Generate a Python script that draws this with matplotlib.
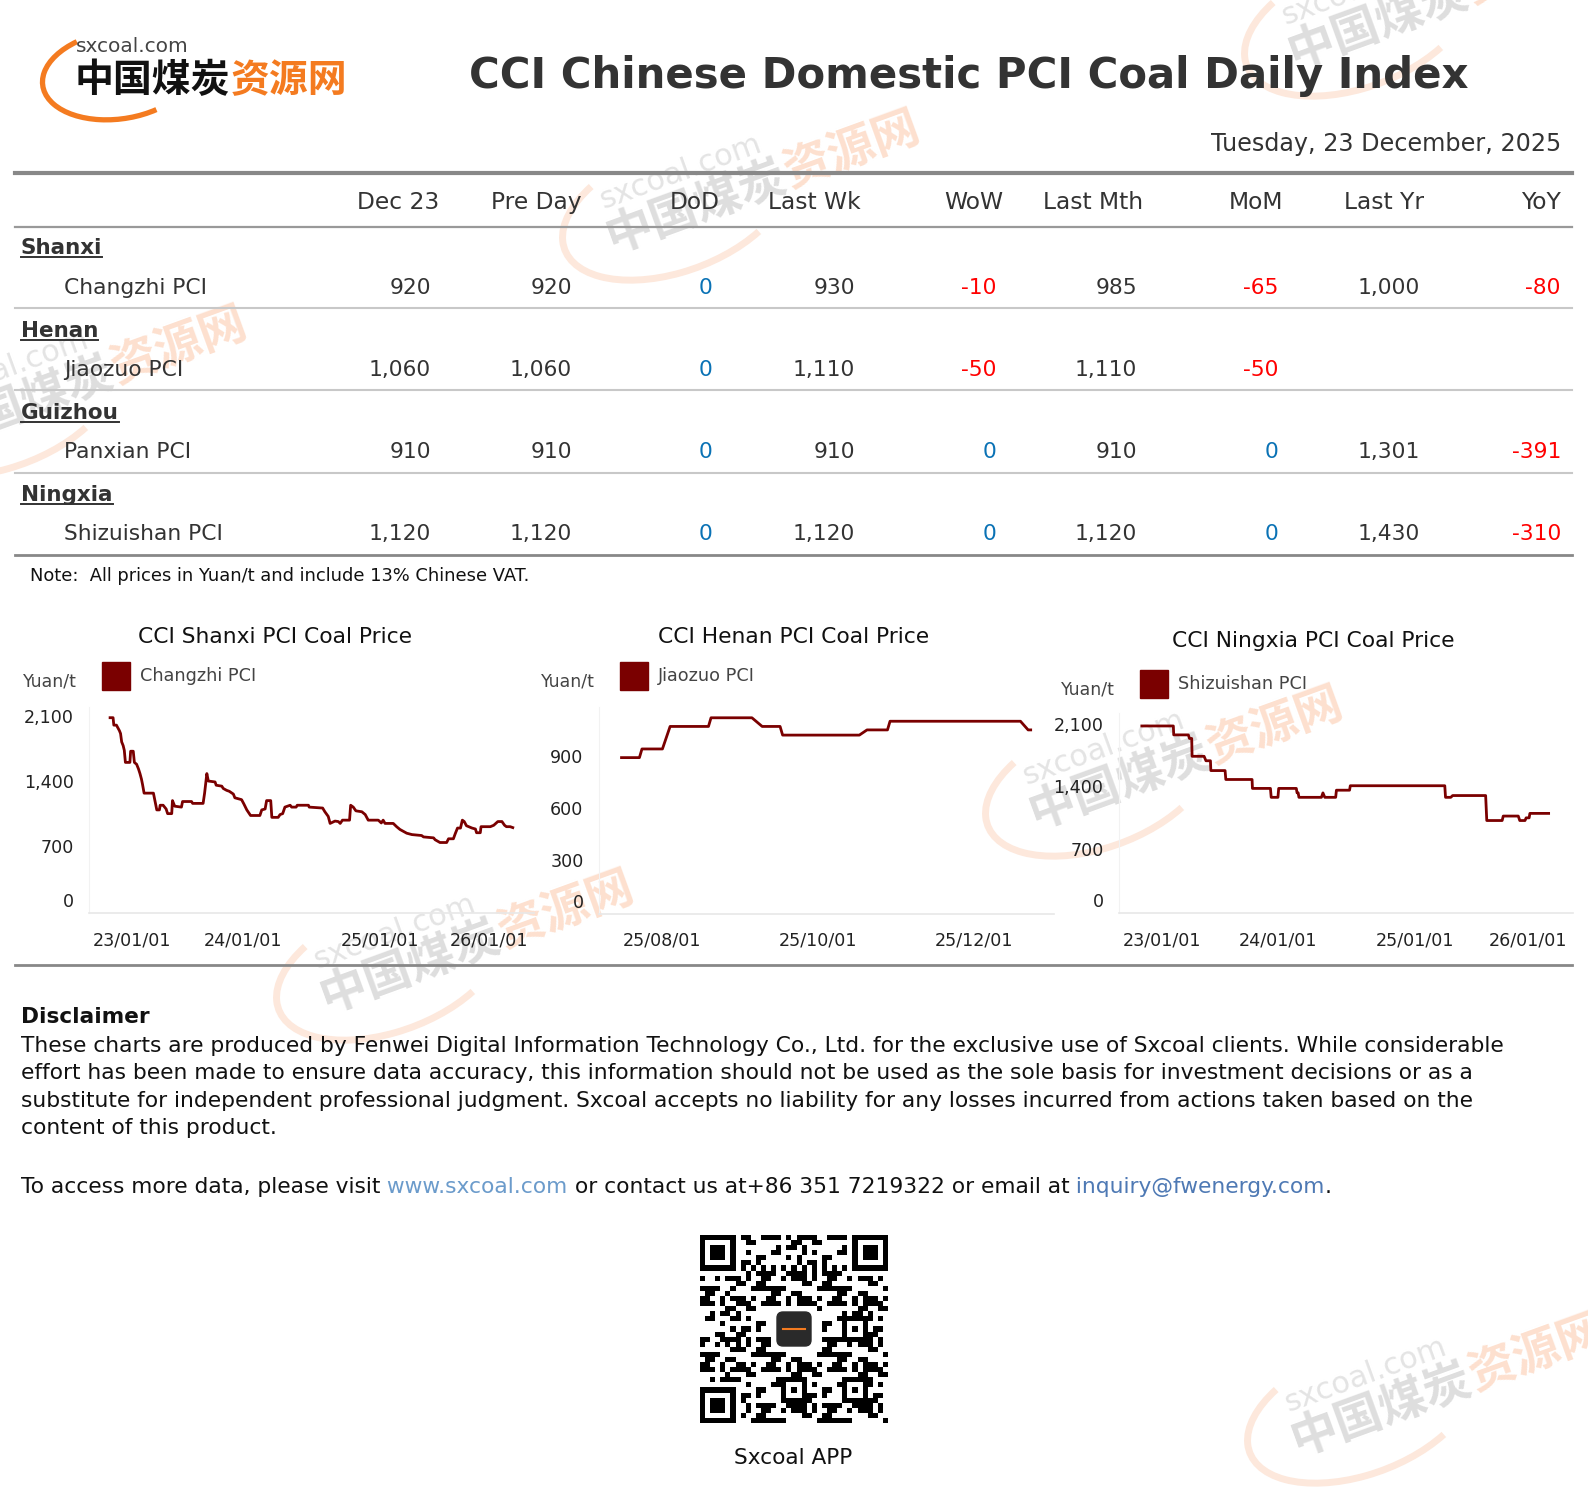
import matplotlib
matplotlib.use("Agg")
import matplotlib.pyplot as plt
import matplotlib.dates as mdates
from matplotlib.patches import Rectangle, Arc, FancyBboxPatch
import numpy as np
import pandas as pd

plt.rcParams['font.family'] = ['DejaVu Sans', 'Noto Sans CJK SC']

W, H = 1588, 1500
CJK = ['Noto Sans CJK SC', 'DejaVu Sans']
LINE = "#7a0000"
TXT = "#333333"
ORANGE = "#f47b20"

# ---------------- table data ----------------
provinces = ["Shanxi", "Henan", "Guizhou", "Ningxia"]
items = ["Changzhi PCI", "Jiaozuo PCI", "Panxian PCI", "Shizuishan PCI"]
headers = ["Dec 23", "Pre Day", "DoD", "Last Wk", "WoW", "Last Mth", "MoM", "Last Yr", "YoY"]
dec23 = [920, 1060, 910, 1120]
pre_day = [920, 1060, 910, 1120]
dod = [0, 0, 0, 0]
last_wk = [930, 1110, 910, 1120]
wow = [-10, -50, 0, 0]
last_mth = [985, 1110, 910, 1120]
mom = [-65, -50, 0, 0]
last_yr = [1000, None, 1301, 1430]
yoy = [-80, None, -391, -310]

# ---------------- chart data ----------------
shanxi_dates = [
    "2023-01-10", "2023-01-18", "2023-01-20", "2023-01-27", "2023-02-04", "2023-02-07",
    "2023-02-10", "2023-02-14", "2023-02-17", "2023-02-20", "2023-03-04", "2023-03-06",
    "2023-03-13", "2023-03-16", "2023-03-22", "2023-03-27", "2023-03-31", "2023-04-04",
    "2023-04-07", "2023-04-11", "2023-05-06", "2023-05-15", "2023-05-22", "2023-05-24",
    "2023-06-01", "2023-06-09", "2023-06-13", "2023-06-24", "2023-06-26", "2023-07-02",
    "2023-07-20", "2023-07-23", "2023-08-16", "2023-08-19", "2023-09-16", "2023-09-20",
    "2023-09-26", "2023-09-30", "2023-10-18", "2023-10-21", "2023-11-05", "2023-11-09",
    "2023-11-18", "2023-11-25", "2023-12-06", "2023-12-10", "2023-12-28", "2024-01-03",
    "2024-01-11", "2024-01-21", "2024-02-15", "2024-02-20", "2024-02-29", "2024-03-04",
    "2024-03-15", "2024-03-18", "2024-04-04", "2024-04-09", "2024-04-16", "2024-04-22",
    "2024-05-06", "2024-05-10", "2024-05-22", "2024-05-25", "2024-06-24", "2024-06-26",
    "2024-08-01", "2024-08-07", "2024-08-16", "2024-08-21", "2024-09-03", "2024-09-12",
    "2024-09-17", "2024-09-23", "2024-10-12", "2024-10-15", "2024-10-22", "2024-10-29",
    "2024-11-14", "2024-11-23", "2024-12-01", "2024-12-28", "2025-01-05", "2025-01-10",
    "2025-01-15", "2025-02-06", "2025-02-15", "2025-02-24", "2025-03-14", "2025-03-28",
    "2025-04-23", "2025-04-28", "2025-05-25", "2025-05-29", "2025-06-11", "2025-06-29",
    "2025-07-04", "2025-07-17", "2025-07-22", "2025-07-28", "2025-08-05", "2025-08-10",
    "2025-08-15", "2025-08-21", "2025-09-05", "2025-09-14", "2025-09-17", "2025-09-27",
    "2025-09-29", "2025-10-24", "2025-11-02", "2025-11-13", "2025-11-24", "2025-12-01",
    "2025-12-06", "2025-12-16", "2025-12-23"]
shanxi_prices = [
    2100, 2100, 2020, 2020, 1960, 1930,
    1840, 1800, 1750, 1620, 1620, 1740,
    1740, 1620, 1600, 1550, 1500, 1440,
    1380, 1290, 1290, 1110, 1110, 1160,
    1160, 1120, 1070, 1070, 1210, 1150,
    1140, 1200, 1200, 1180, 1180, 1290,
    1500, 1420, 1410, 1375, 1365, 1340,
    1320, 1310, 1280, 1240, 1220, 1175,
    1110, 1050, 1050, 1110, 1120, 1210,
    1210, 1030, 1030, 1060, 1070, 1140,
    1160, 1140, 1140, 1160, 1160, 1140,
    1130, 1090, 1040, 965, 990, 985,
    965, 1000, 1000, 1160, 1140, 1100,
    1090, 1060, 1000, 1000, 970, 1000,
    965, 965, 930, 900, 860, 845,
    835, 820, 810, 790, 760, 760,
    800, 800, 855, 915, 915, 1000,
    985, 940, 915, 905, 865, 865,
    930, 930, 945, 985, 985, 945,
    930, 930, 920]

henan_dates = [
    "2025-07-16", "2025-07-23", "2025-07-24", "2025-08-01", "2025-08-04", "2025-08-19",
    "2025-08-20", "2025-09-05", "2025-09-09", "2025-09-16", "2025-09-17", "2025-10-17",
    "2025-10-20", "2025-10-28", "2025-10-29", "2025-12-19", "2025-12-22", "2025-12-23"]
henan_prices = [
    900, 900, 950, 950, 1080, 1080,
    1130, 1130, 1080, 1080, 1030, 1030,
    1060, 1060, 1110, 1110, 1060, 1060]

ningxia_dates = [
    "2023-01-03", "2023-03-28", "2023-03-29", "2023-05-07", "2023-05-10", "2023-05-16",
    "2023-05-17", "2023-06-18", "2023-06-23", "2023-07-05", "2023-07-06", "2023-08-13",
    "2023-08-15", "2023-10-24", "2023-10-25", "2023-12-12", "2023-12-14", "2024-01-01",
    "2024-01-03", "2024-02-19", "2024-02-21", "2024-02-24", "2024-02-26", "2024-04-26",
    "2024-04-30", "2024-05-05", "2024-06-03", "2024-06-05", "2024-07-10", "2024-07-12",
    "2025-03-21", "2025-03-23", "2025-04-06", "2025-04-11", "2025-07-08", "2025-07-11",
    "2025-08-21", "2025-08-24", "2025-10-03", "2025-10-07", "2025-10-21", "2025-10-24",
    "2025-11-01", "2025-11-03", "2025-12-23"]
ningxia_prices = [
    2100, 2100, 2000, 2000, 1960, 1960,
    1760, 1760, 1710, 1710, 1600, 1600,
    1500, 1500, 1400, 1400, 1300, 1300,
    1400, 1400, 1350, 1350, 1300, 1300,
    1350, 1300, 1300, 1380, 1380, 1430,
    1430, 1300, 1300, 1320, 1320, 1040,
    1040, 1090, 1090, 1040, 1040, 1070,
    1070, 1120, 1120]

year_ticks = ["2023-01-01", "2024-01-01", "2025-01-01", "2026-01-01"]
year_labels = ["23/01/01", "24/01/01", "25/01/01", "26/01/01"]
henan_ticks = ["2025-08-01", "2025-10-01", "2025-12-01"]
henan_labels = ["25/08/01", "25/10/01", "25/12/01"]
yticks_long = [0, 700, 1400, 2100]
yticks_henan = [0, 300, 600, 900]

disclaimer = [
    "These charts are produced by Fenwei Digital Information Technology Co., Ltd. for the exclusive use of Sxcoal clients. While considerable",
    "effort has been made to ensure data accuracy, this information should not be used as the sole basis for investment decisions or as a",
    "substitute for independent professional judgment. Sxcoal accepts no liability for any losses incurred from actions taken based on the",
    "content of this product.",
]

fig = plt.figure(figsize=(W / 100, H / 100), dpi=100)
ov = fig.add_axes([0, 0, 1, 1])
ov.set_xlim(0, W)
ov.set_ylim(H, 0)
ov.axis("off")


def watermark(x, y):
    # faint rotated site logo, x/y = lower left of first glyph
    ang = 20
    rad = np.deg2rad(ang)
    step = 190
    ov.add_patch(Arc((x + 63, y - 43), 235, 125, angle=-ang, theta1=35, theta2=215,
                     color="#fde8dc", lw=5, zorder=1))
    ov.text(x, y, "中国煤炭", rotation=ang, rotation_mode="anchor", ha="left", va="baseline",
            fontsize=34, fontweight="bold", family=CJK, color="#dedede", zorder=1)
    ov.text(x + step * np.cos(rad), y - step * np.sin(rad), "资源网", rotation=ang,
            rotation_mode="anchor", ha="left", va="baseline", fontsize=34, fontweight="bold",
            family=CJK, color="#fde0cf", zorder=1)
    ov.text(x - 9, y - 43, "sxcoal.com", rotation=ang, rotation_mode="anchor", ha="left",
            va="baseline", fontsize=22, color="#e4e4e4", zorder=1)


for wx, wy in [(1294, 68), (612, 252), (-61, 448), (1035, 828), (326, 1012), (1297, 1455)]:
    watermark(wx, wy)

# ---------------- header ----------------
ov.add_patch(Arc((118, 75), 152, 88, angle=-8, theta1=50, theta2=227, color=ORANGE, lw=3.8, zorder=3))
ov.text(76, 47, "sxcoal.com", ha="left", va="center", fontsize=14.5, color="#444", zorder=4)
ov.text(75, 81, "中国煤炭", ha="left", va="center", fontsize=28, fontweight="bold",
        family=CJK, color="#111", zorder=4)
ov.text(75 + 4 * 38.9, 81, "资源网", ha="left", va="center", fontsize=28, fontweight="bold",
        family=CJK, color=ORANGE, zorder=4)

ov.text(969, 76, "CCI Chinese Domestic PCI Coal Daily Index", ha="center", va="center",
        fontsize=30.2, fontweight="bold", color=TXT, zorder=4)
ov.text(1561, 144, "Tuesday, 23 December, 2025", ha="right", va="center", fontsize=17.2,
        color=TXT, zorder=4)

# ---------------- table ----------------
ov.plot([15, 1572], [173.3, 173.3], color="#888888", lw=3, zorder=3)
ov.plot([15, 1572], [226.7, 226.7], color="#999999", lw=1.6, zorder=3)
hdr_right = [439, 582, 720, 861, 1003, 1143, 1283, 1424, 1561]
val_right = [431, 572, 713, 855, 997, 1137, 1278, 1420, 1561]
for h, x in zip(headers, hdr_right):
    ov.text(x, 202.5, h, ha="right", va="center", fontsize=16.8, color=TXT, zorder=4)

prov_y = [248.3, 330.7, 412.7, 495]
item_y = [288.3, 370, 452.3, 534.3]
sep_y = [308.3, 390, 472.7]
columns = [dec23, pre_day, dod, last_wk, wow, last_mth, mom, last_yr, yoy]
is_change = [False, False, True, False, True, False, True, False, True]

prov_texts = []
for i in range(len(provinces)):
    prov_texts.append(ov.text(21, prov_y[i], provinces[i], ha="left", va="center", fontsize=15.5,
                              fontweight="bold", color=TXT, zorder=4))
    ov.text(64, item_y[i], items[i], ha="left", va="center", fontsize=15.7, color=TXT, zorder=4)
    for col, chg, x in zip(columns, is_change, val_right):
        v = col[i]
        if v is None:
            continue
        if chg:
            color = "#ff0000" if v < 0 else ("#0a72b5" if v == 0 else "#1a9a3a")
        else:
            color = TXT
        ov.text(x, item_y[i], f"{v:,}", ha="right", va="center", fontsize=15.7, color=color, zorder=4)
for y in sep_y:
    ov.plot([15, 1572], [y, y], color="#c8c8c8", lw=1.5, zorder=3)
ov.plot([15, 1572], [555, 555], color="#888888", lw=2, zorder=3)
ov.text(30, 576, "Note:  All prices in Yuan/t and include 13% Chinese VAT.", ha="left",
        va="center", fontsize=12.9, color="#111", zorder=4)


# ---------------- charts ----------------
def chart(box, dates, prices, xlim, ytop, yticks, xticks, xlabels, xshift,
          title, title_xy, unit_xy, legend_xy, name):
    x0, x1, top, bottom = box
    ax = fig.add_axes([x0 / W, 1 - bottom / H, (x1 - x0) / W, (bottom - top) / H])
    ax.set_facecolor("none")
    ax.plot(pd.to_datetime(dates), prices, color=LINE, lw=2.0)
    ax.set_xlim(pd.Timestamp(xlim[0]), pd.Timestamp(xlim[1]))
    ax.set_ylim(0, ytop)
    ax.set_xticks([])
    ax.set_yticks([])
    for s in ("top", "right"):
        ax.spines[s].set_visible(False)
    ax.spines["left"].set_color("#f2f2f2")
    ax.spines["bottom"].set_color("#e8e8e8")
    ax.spines["bottom"].set_linewidth(1.2)
    for v in yticks:
        ax.annotate(f"{v:,}", xy=(0, v), xycoords=("axes fraction", "data"),
                    xytext=(-15, 11 if v == 0 else 0), textcoords="offset pixels",
                    ha="right", va="center", fontsize=12.6, color="#222", annotation_clip=False)
    for t, lab, dx in zip(xticks, xlabels, xshift):
        ax.annotate(lab, xy=(mdates.date2num(pd.Timestamp(t)), 0), xycoords=("data", "axes fraction"),
                    xytext=(dx, -27), textcoords="offset pixels", ha="center", va="center",
                    fontsize=12.6, color="#222", annotation_clip=False)
    ov.text(title_xy[0], title_xy[1], title, ha="center", va="center", fontsize=15.7,
            color="#111", zorder=4)
    ov.text(unit_xy[0], unit_xy[1], "Yuan/t", ha="center", va="center", fontsize=12.5,
            color="#444", zorder=4)
    lx, ly = legend_xy
    ov.add_patch(Rectangle((lx, ly), 28, 28, color=LINE, zorder=4))
    ov.text(lx + 38, ly + 14, name, ha="left", va="center", fontsize=12.7, color="#444", zorder=4)
    return ax


chart((88.8, 533.7, 706.7, 913.3), shanxi_dates, shanxi_prices, ("2022-11-14", "2026-02-17"),
      2218, yticks_long, year_ticks, year_labels, [25, 0, 0, -27],
      "CCI Shanxi PCI Coal Price", (274.6, 637), (50, 682), (102, 662), "Changzhi PCI")
chart((598.5, 1053.7, 706.7, 913.5), henan_dates, henan_prices, ("2025-07-07", "2026-01-01"),
      1194, yticks_henan, henan_ticks, henan_labels, [0, 0, 0],
      "CCI Henan PCI Coal Price", (794, 637), (568, 682), (620, 662), "Jiaozuo PCI")
chart((1118.6, 1573, 713.3, 913.3), ningxia_dates, ningxia_prices, ("2022-11-02", "2026-02-26"),
      2242, yticks_long, year_ticks, year_labels, [21, 0, 0, -24],
      "CCI Ningxia PCI Coal Price", (1313, 641), (1088, 690), (1140, 670), "Shizuishan PCI")

ov.plot([15, 1572], [965, 965], color="#888888", lw=2, zorder=3)

# ---------------- disclaimer ----------------
ov.text(21, 1016.7, "Disclaimer", ha="left", va="center", fontsize=15.6, fontweight="bold",
        color="#111", zorder=4)
for k, line in enumerate(disclaimer):
    ov.text(21, 1046 + k * 27.4, line, ha="left", va="center", fontsize=15.7, color="#111", zorder=4)

fig.canvas.draw()
renderer = fig.canvas.get_renderer()

# underline province names
for t, y in zip(prov_texts, prov_y):
    bb = t.get_window_extent(renderer=renderer)
    ov.plot([bb.x0, bb.x1], [y + 9, y + 9], color=TXT, lw=1.4, zorder=4)

# contact line with coloured links
chunks = [("To access more data, please visit", "#111"), (" www.sxcoal.com", "#6b9bcb"),
          (" or contact us at+86 351 7219322 or email at", "#111"),
          (" inquiry@fwenergy.com", "#4e79b4"), (".", "#111")]
cx = 21
for s, c in chunks:
    t = ov.text(cx, 1186.7, s, ha="left", va="center", fontsize=15.7, color=c, zorder=4)
    cx = t.get_window_extent(renderer=renderer).x1

# ---------------- QR-like app code ----------------
n = 37
grid = np.zeros((n, n))
r, c = np.mgrid[0:n, 0:n]
grid[((r * r * 7 + c * c * 3 + r * c * 5 + 3 * r + 2 * c) % 13) < 6] = 1
grid[6, :] = (np.arange(n) + 1) % 2
grid[:, 6] = (np.arange(n) + 1) % 2
for fr, fc in [(0, 0), (0, n - 7), (n - 7, 0)]:
    grid[max(fr - 1, 0):fr + 8, max(fc - 1, 0):fc + 8] = 0
    grid[fr:fr + 7, fc:fc + 7] = 1
    grid[fr + 1:fr + 6, fc + 1:fc + 6] = 0
    grid[fr + 2:fr + 5, fc + 2:fc + 5] = 1
for ar, ac in [(28, 28), (28, 16), (16, 28)]:
    grid[ar:ar + 5, ac:ac + 5] = 1
    grid[ar + 1:ar + 4, ac + 1:ac + 4] = 0
    grid[ar + 2, ac + 2] = 1
grid[14:23, 14:23] = 0
ov.imshow(1 - grid, cmap="gray", interpolation="nearest", extent=(700, 888, 1423, 1235),
          aspect="auto", zorder=4, vmin=0, vmax=1)
ov.add_patch(FancyBboxPatch((777, 1312), 34, 34, boxstyle="round,pad=0,rounding_size=6",
                            color="#2a2a2a", zorder=5))
ov.plot([783, 805], [1329, 1329], color=ORANGE, lw=1.5, zorder=6)
ov.set_xlim(0, W)
ov.set_ylim(H, 0)
ov.text(793.3, 1458.3, "Sxcoal APP", ha="center", va="center", fontsize=15.6, color="#111", zorder=4)

fig.savefig("out.png", dpi=100)
